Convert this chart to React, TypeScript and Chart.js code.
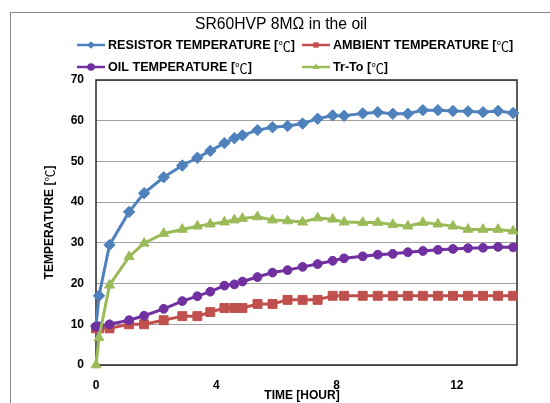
import React, { useEffect, useRef } from 'react';
import { Chart, registerables } from 'chart.js';

Chart.register(...registerables);

const CHART_TITLE = 'SR60HVP 8MΩ in the oil';
const X_TITLE = 'TIME [HOUR]';
const Y_TITLE = 'TEMPERATURE [℃]';
const SERIES_NAMES = [
  'RESISTOR TEMPERATURE [℃]',
  'AMBIENT TEMPERATURE [℃]',
  'OIL TEMPERATURE [℃]',
  'Tr-To [℃]',
];
const SERIES_COLORS = ['#4F81BD', '#C0504D', '#7030A0', '#9BBB59'];
const SERIES_MARKERS = ['rectRot', 'rect', 'circle', 'triangle'];

const TIME_HOURS = [
  0, 0.1, 0.45, 1.1, 1.6, 2.25, 2.87, 3.37, 3.8, 4.27, 4.6, 4.87, 5.37, 5.87, 6.37,
  6.87, 7.37, 7.87, 8.25, 8.87, 9.37, 9.87, 10.37, 10.87, 11.37, 11.87, 12.37, 12.87,
  13.37, 13.87,
];
const RESISTOR_TEMP = [
  9.5, 17.0, 29.5, 37.6, 42.2, 46.1, 49.0, 50.9, 52.6, 54.5, 55.7, 56.4, 57.7, 58.4,
  58.7, 59.3, 60.5, 61.3, 61.2, 61.8, 62.1, 61.7, 61.7, 62.6, 62.6, 62.4, 62.3, 62.1,
  62.4, 61.9,
];
const AMBIENT_TEMP = [
  9, 9, 9, 10, 10, 11, 12, 12, 13, 14, 14, 14, 15, 15, 16, 16, 16, 17, 17, 17, 17, 17,
  17, 17, 17, 17, 17, 17, 17, 17,
];
const OIL_TEMP = [
  9.4, 9.5, 10.0, 11.0, 12.1, 13.8, 15.7, 16.9, 18.0, 19.5, 19.8, 20.5, 21.6, 22.7,
  23.3, 24.1, 24.8, 25.6, 26.2, 26.7, 27.1, 27.3, 27.7, 28.0, 28.3, 28.5, 28.7, 28.8,
  29.0, 28.9,
];
const TR_TO = [
  0, 6.7, 19.6, 26.6, 29.9, 32.3, 33.3, 34.1, 34.6, 35.1, 35.6, 36.0, 36.4, 35.6, 35.4,
  35.1, 36.1, 35.8, 35.1, 35.0, 35.0, 34.5, 34.1, 35.0, 34.6, 34.1, 33.3, 33.3, 33.3,
  32.9,
];
const SERIES_VALUES = [RESISTOR_TEMP, AMBIENT_TEMP, OIL_TEMP, TR_TO];

const X_TICKS = [0, 4, 8, 12];
const X_MIN = 0;
const X_MAX = 14;
const Y_MIN = 0;
const Y_MAX = 70;
const Y_STEP = 10;

const FONT = '"Liberation Sans", Arial, Helvetica, sans-serif';
const CJK_FONT = '"Noto Sans CJK JP", "Noto Sans CJK SC", sans-serif';
const MARKER_RADII = [5.7, 6.3, 4.4, 5.7];

function drawMarker(ctx: CanvasRenderingContext2D, style: string, x: number, y: number, r: number, color: string) {
  ctx.save();
  ctx.fillStyle = color;
  ctx.beginPath();
  if (style === 'rectRot') {
    ctx.moveTo(x, y - r);
    ctx.lineTo(x + r, y);
    ctx.lineTo(x, y + r);
    ctx.lineTo(x - r, y);
    ctx.closePath();
  } else if (style === 'rect') {
    const h = r * Math.SQRT1_2;
    ctx.rect(x - h, y - h, 2 * h, 2 * h);
  } else if (style === 'circle') {
    ctx.arc(x, y, r, 0, Math.PI * 2);
  } else {
    const w = r * Math.sin(Math.PI / 3);
    ctx.moveTo(x, y - r);
    ctx.lineTo(x + w, y + r / 2);
    ctx.lineTo(x - w, y + r / 2);
    ctx.closePath();
  }
  ctx.fill();
  ctx.restore();
}

// Draw text where the ℃ sign uses a CJK (full-width) font, like the original.
function splitCelsius(text: string): string[] {
  return text.split(/(℃)/).filter((s) => s.length > 0);
}
function measureMixed(ctx: CanvasRenderingContext2D, text: string, size: number): number {
  let w = 0;
  for (const seg of splitCelsius(text)) {
    ctx.font = seg === '℃' ? `${size}px ${CJK_FONT}` : `bold ${size}px ${FONT}`;
    w += ctx.measureText(seg).width;
  }
  return w;
}
function drawMixed(ctx: CanvasRenderingContext2D, text: string, x: number, y: number, size: number) {
  let cx = x;
  ctx.textAlign = 'left';
  ctx.textBaseline = 'middle';
  for (const seg of splitCelsius(text)) {
    ctx.font = seg === '℃' ? `${size}px ${CJK_FONT}` : `bold ${size}px ${FONT}`;
    ctx.fillText(seg, cx, y);
    cx += ctx.measureText(seg).width;
  }
}

const decorPlugin = {
  id: 'decor',
  beforeDraw(chart: any) {
    const { ctx, width, height } = chart;
    ctx.save();
    ctx.fillStyle = '#ffffff';
    ctx.fillRect(0, 0, width, height);
    ctx.strokeStyle = '#868686';
    ctx.lineWidth = 1;
    ctx.strokeRect(10.5, 12.5, width + 50, height + 50);
    ctx.restore();
  },
  beforeDatasetsDraw(chart: any) {
    const { ctx, chartArea } = chart;
    ctx.save();
    ctx.strokeStyle = '#262626';
    ctx.lineWidth = 1.5;
    ctx.strokeRect(chartArea.left, chartArea.top, chartArea.right - chartArea.left, chartArea.bottom - chartArea.top);
    ctx.restore();
  },
  afterDraw(chart: any) {
    const { ctx, chartArea } = chart;
    ctx.save();
    ctx.fillStyle = '#000000';
    ctx.font = `15.7px ${FONT}`;
    ctx.textAlign = 'center';
    ctx.textBaseline = 'middle';
    ctx.fillText(CHART_TITLE, 281, 25);

    // x-axis title
    ctx.font = `bold 12px ${FONT}`;
    ctx.fillText(X_TITLE, 302, 396);

    // y-axis title (rotated)
    const yMid = (chartArea.top + chartArea.bottom) / 2;
    const tw = measureMixed(ctx, Y_TITLE, 12);
    ctx.save();
    ctx.translate(50, yMid);
    ctx.rotate(-Math.PI / 2);
    ctx.fillStyle = '#000000';
    drawMixed(ctx, Y_TITLE, -tw / 2, 0, 12);
    ctx.restore();

    // legend
    const cols = [77, 302];
    const rows = [45, 67];
    SERIES_NAMES.forEach((name, i) => {
      const x = cols[i % 2];
      const y = rows[Math.floor(i / 2)];
      ctx.strokeStyle = SERIES_COLORS[i];
      ctx.lineWidth = 2.5;
      ctx.beginPath();
      ctx.moveTo(x, y);
      ctx.lineTo(x + 28, y);
      ctx.stroke();
      drawMarker(ctx, SERIES_MARKERS[i], x + 14, y, 3.8, SERIES_COLORS[i]);
      ctx.fillStyle = '#000000';
      drawMixed(ctx, name, x + 31, y + 1, 12.6);
    });
    ctx.restore();
  },
};

export default function App() {
  const canvasRef = useRef<HTMLCanvasElement | null>(null);

  useEffect(() => {
    if (!canvasRef.current) return;
    const datasets = SERIES_NAMES.map((name, i) => ({
      label: name,
      data: TIME_HOURS.map((t, j) => ({ x: t, y: SERIES_VALUES[i][j] })),
      borderColor: SERIES_COLORS[i],
      backgroundColor: SERIES_COLORS[i],
      borderWidth: 3,
      pointStyle: SERIES_MARKERS[i],
      pointRadius: MARKER_RADII[i],
      pointBorderWidth: 1,
      pointBackgroundColor: SERIES_COLORS[i],
      pointBorderColor: SERIES_COLORS[i],
      tension: 0,
      clip: false,
      order: 4 - i,
    }));

    const chart = new Chart(canvasRef.current, {
      type: 'line',
      data: { datasets },
      plugins: [decorPlugin],
      options: {
        animation: false,
        responsive: false,
        devicePixelRatio: 1,
        layout: { padding: { top: 80, right: 33, left: 0, bottom: 0 } },
        plugins: {
          legend: { display: false },
          title: { display: false },
          tooltip: { enabled: false },
        },
        scales: {
          x: {
            type: 'linear',
            min: X_MIN,
            max: X_MAX,
            afterFit: (s: any) => { s.height = 38; },
            afterBuildTicks: (s: any) => { s.ticks = X_TICKS.map((v) => ({ value: v })); },
            grid: { display: false, drawTicks: false },
            border: { display: false },
            ticks: {
              padding: 13,
              color: '#000000',
              font: { family: FONT, size: 12, weight: 'bold' },
              maxRotation: 0,
              autoSkip: false,
            },
          },
          y: {
            type: 'linear',
            min: Y_MIN,
            max: Y_MAX,
            afterFit: (s: any) => { s.width = 96; },
            grid: { color: '#A0A0A0', lineWidth: 1, drawTicks: false },
            border: { display: false },
            ticks: {
              stepSize: Y_STEP,
              padding: 12,
              color: '#000000',
              font: { family: FONT, size: 12, weight: 'bold' },
            },
          },
        },
      },
    } as any);
    return () => chart.destroy();
  }, []);

  return (
    <div style={{ position: 'fixed', left: 0, top: 0, width: 550, height: 403, background: '#fff' }}>
      <canvas ref={canvasRef} width={550} height={403} style={{ width: 550, height: 403, display: 'block' }} />
    </div>
  );
}
